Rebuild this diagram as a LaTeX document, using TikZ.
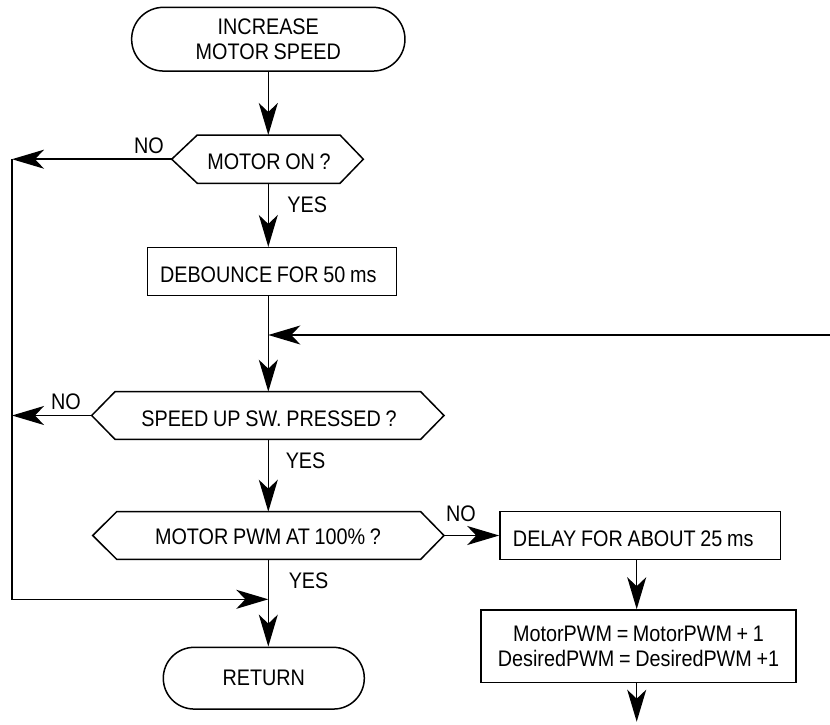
\documentclass[tikz,border=0pt]{standalone}
\usepackage{fontspec}
\setmainfont{Liberation Sans}[FakeStretch=0.88,WordSpace=0.85]
\usetikzlibrary{arrows.meta}
\newcommand\dgfont{\fontsize{22.5}{25.6}\selectfont}
\begin{document}
\begin{tikzpicture}[x=1pt,y=-1pt,line width=1.5pt,
  arr/.style={-{Stealth[length=32pt,width=19pt,inset=9pt]}},
  lbl/.style={font=\dgfont,inner sep=0pt},
  term/.style={draw,inner sep=0pt,align=center,font=\dgfont},
  box/.style={draw,inner ysep=0pt,font=\dgfont,text height=21pt,text depth=0pt,align=flush left}]
\useasboundingbox (0,0) rectangle (830,725);
\coordinate (col) at (268.3,0);
% terminals
\node[term,minimum width=273.3pt,minimum height=63.7pt,rounded corners=31.8pt] (t1) at (268.3,39.2)
  {\fontsize{22.5}{27.3}\selectfont INCREASE\\MOTOR SPEED};
\node[term,minimum width=201pt,minimum height=61.7pt,rounded corners=30.8pt] (t2) at (263.8,678.2) {RETURN};
% decision 1
\coordinate (d1w) at (171.7,159.2); \coordinate (d1e) at (363.3,159.2);
\coordinate (d1n) at (268.3,135); \coordinate (d1s) at (268.3,183.3);
\draw (d1w) -- (197.3,135) -- (340,135) -- (d1e) -- (340,183.3) -- (197.3,183.3) -- cycle;
\node[lbl] (d1) at (269,161.7) {MOTOR ON ?};
% box 1
\node[box,inner xsep=12.3pt,text width=224.4pt,minimum height=48pt] (b1) at (272.2,271.7) {DEBOUNCE FOR 50 ms};
% decision 2
\coordinate (d2w) at (91.7,415.5); \coordinate (d2e) at (444,415.5);
\coordinate (d2n) at (268.3,391.7); \coordinate (d2s) at (268.3,439.3);
\draw (d2w) -- (115,391.7) -- (420.7,391.7) -- (d2e) -- (420.7,439.3) -- (115,439.3) -- cycle;
\node[lbl] (d2) at (269,418.3) {SPEED UP SW. PRESSED ?};
% decision 3
\coordinate (d3w) at (92.7,535.5); \coordinate (d3e) at (444,535.5);
\coordinate (d3n) at (268.3,511.7); \coordinate (d3s) at (268.3,559.3);
\draw (d3w) -- (116.7,511.7) -- (420.7,511.7) -- (d3e) -- (420.7,559.3) -- (116.7,559.3) -- cycle;
\node[lbl] (d3) at (268,536.7) {MOTOR PWM AT 100\% ?};
% boxes right
\node[box,inner xsep=13pt,text width=254.7pt,minimum height=47.6pt] (b2) at (640.3,535.5) {DELAY FOR ABOUT 25 ms};
\node[draw,font=\dgfont,align=center,minimum width=315pt,minimum height=72.7pt,inner sep=0pt] (b3) at (638.5,646.3)
  {MotorPWM = MotorPWM + 1\\DesiredPWM = DesiredPWM +1};
% helper coordinates
\coordinate (L1) at (12,159.2);
\coordinate (L2) at (12,415.5);
\coordinate (L3) at (12,599.3);
\coordinate (j3) at (268.3,599.3);
\coordinate (rin) at (830,335);
\coordinate (j1) at (268.3,335);
\coordinate (endc) at (636.7,721.7);
% labels
\node[lbl] (no1) at (149,146) {NO};
\node[lbl,anchor=west] (yes1) at (286.7,205) {YES};
\node[lbl] (no2) at (66,402) {NO};
\node[lbl,anchor=west] (yes2) at (285,461) {YES};
\node[lbl] (no3) at (461,514) {NO};
\node[lbl,anchor=west] (yes3) at (288,581) {YES};
% connectors
\draw[arr] (t1.south) -- (d1n);
\draw[arr] (d1s) -- (col |- b1.north);
\draw[arr] (col |- b1.south) -- (d2n);
\draw[arr] (rin) -- (j1);
\draw[arr] (d2s) -- (d3n);
\draw[arr] (d3e) -- (b2.west);
\draw[arr] (d3s) -- (col |- t2.north);
\draw[arr] (d1w) -- (L1);
\draw[arr] (L1) -- (L3) -- (j3);
\draw[arr] (d2w) -- (L2);
\draw[arr] ([xshift=-3.6pt]b2.south) -- ([xshift=-3.6pt]b2.south |- b3.north);
\draw[arr] (endc |- b3.south) -- (endc);
\end{tikzpicture}
\end{document}
